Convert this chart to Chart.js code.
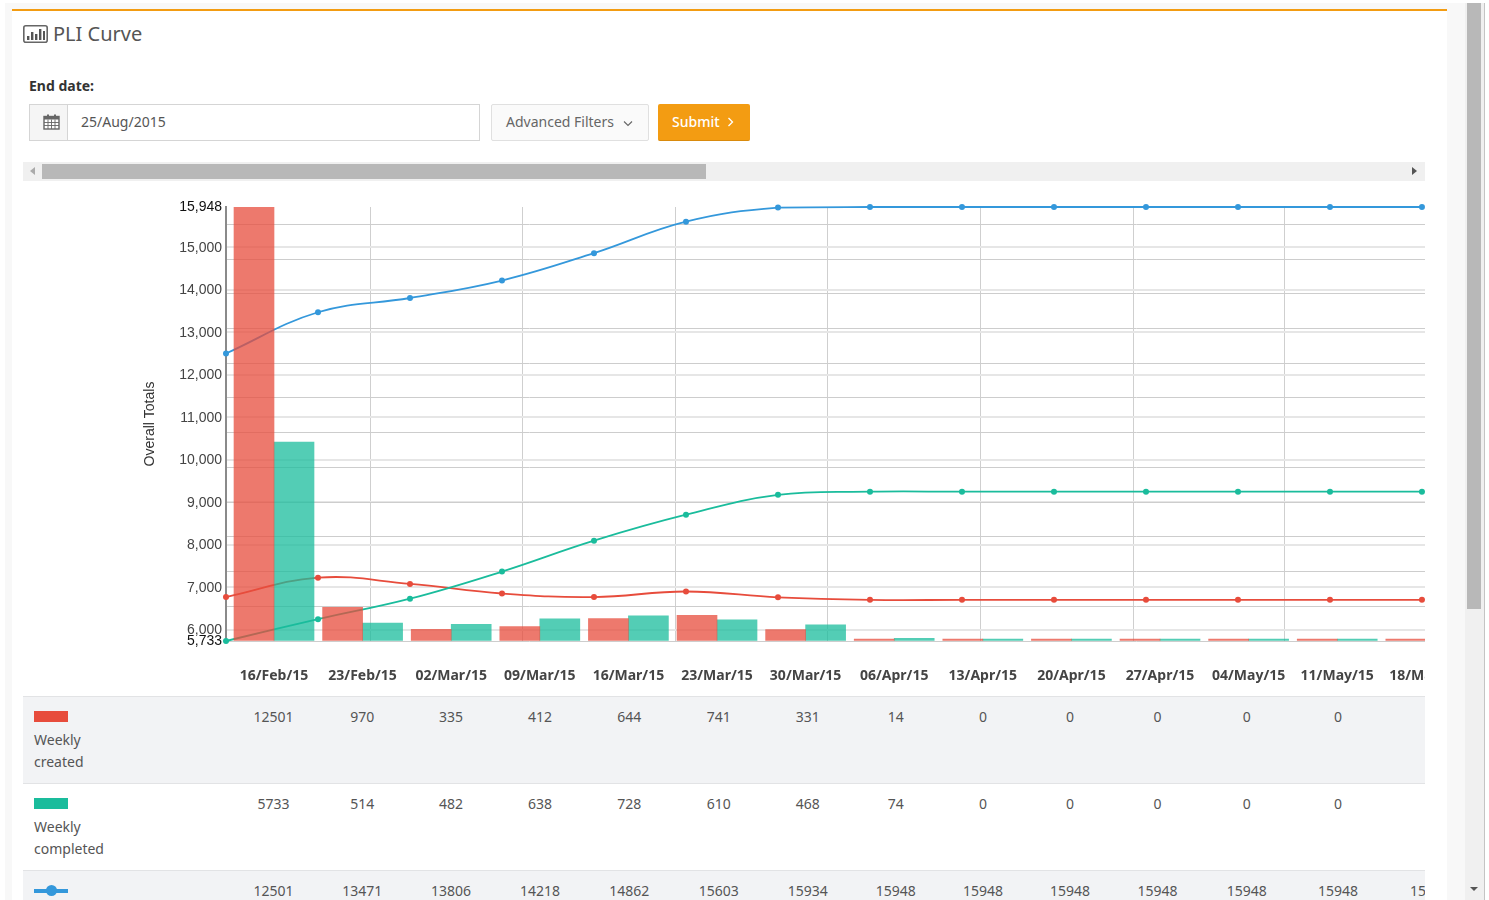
<!DOCTYPE html>
<html>
<head>
<meta charset="utf-8">
<title>PLI Curve</title>
<script src="https://cdn.jsdelivr.net/npm/chart.js@4/dist/chart.umd.min.js"></script>
<style>
  html, body { margin: 0; padding: 0; width: 1489px; height: 900px; overflow: hidden; background: #fff; }
  body { font-family: "Noto Sans", sans-serif; color: #555; position: relative; }
  .abs { position: absolute; box-sizing: border-box; }
  #page { left: 5px; top: 3px; width: 1460px; height: 897px; background: #f8f8f8; }
  #panel { left: 12px; top: 9px; width: 1435px; height: 891px; background: #fff; border-top: 2px solid #f39c12; }
  #title { left: 53px; top: 19px; font-size: 20px; line-height: 30px; color: #555; }
  #endLabel { left: 29px; top: 76px; font-size: 14px; line-height: 20px; font-weight: bold; color: #333; }
  #addon { left: 29px; top: 104px; width: 39px; height: 37px; background: #f5f5f5; border: 1px solid #d5d5d5; }
  #dateInput { left: 67px; top: 104px; width: 413px; height: 37px; background: #fff; border: 1px solid #d5d5d5; padding-left: 13px; font-size: 14px; line-height: 34px; }
  #filters { left: 491px; top: 104px; width: 158px; height: 37px; background: #fafafa; border: 1px solid #e0e0e0; border-radius: 2px; padding-left: 14px; font-size: 14px; line-height: 34px; color: #666; white-space: nowrap; }
  #submit { left: 658px; top: 104px; width: 92px; height: 37px; background: #f39c12; border-bottom: 1px solid #d98a0c; border-radius: 2px; padding-left: 14px; font-size: 14px; line-height: 35px; color: #fff; font-weight: 500; white-space: nowrap; }
  #hbar { left: 23px; top: 162px; width: 1402px; height: 19px; background: #f0f0f0; }
  #hthumb { left: 42px; top: 164px; width: 664px; height: 15px; background: #b8b8b8; }
  #vbar { left: 1465px; top: 3px; width: 20px; height: 897px; background: #f0f0f0; border-right: 1px solid #c4c4c4; }
  #vthumb { left: 1467px; top: 3px; width: 14px; height: 606px; background: #b8b8b8; }
  .tri { width: 0; height: 0; border-style: solid; border-color: transparent; }
  #chartClip { left: 23px; top: 181px; width: 1402px; height: 515px; overflow: hidden; }
  #chartClip canvas { position: absolute; left: 0; top: 0; }
  #tableClip { left: 23px; top: 696px; width: 1402px; height: 204px; overflow: hidden; }
  #dataTable { border-collapse: collapse; table-layout: fixed; font-size: 14px; color: #555; }
  #dataTable td { padding: 9px 0 0 0; vertical-align: top; text-align: center; line-height: 22px; height: 77px; border-top: 1px solid #e2e3e5; white-space: nowrap; overflow: hidden; }
  #dataTable td.name { text-align: left; padding: 10px 0 0 11px; height: 76px; white-space: normal; }
  #dataTable tr.odd td { background: #f2f3f5; }
  .swatch { display: block; width: 34px; height: 11px; margin: 4px 0 7px 0; }
  .lineIcon { display: block; position: relative; width: 34px; height: 4px; margin: 8px 0 0 0; background: #3498db; }
  .lineIcon i { position: absolute; left: 12px; top: -4px; width: 11px; height: 11px; border-radius: 50%; background: #3498db; }
</style>
</head>
<body>
<div class="abs" id="page"></div>
<div class="abs" id="panel"></div>

<svg class="abs" style="left:23px;top:25px" width="25" height="18" viewBox="0 0 25 18">
  <rect x="0.8" y="0.8" width="23.4" height="16.4" rx="2" fill="#fff" stroke="#666" stroke-width="1.6"/>
  <rect x="4" y="11" width="2.4" height="4" fill="#555"/>
  <rect x="8" y="7" width="2.4" height="8" fill="#555"/>
  <rect x="12" y="9" width="2.4" height="6" fill="#555"/>
  <rect x="16" y="4" width="2.4" height="11" fill="#555"/>
  <rect x="20" y="6" width="2" height="9" fill="#555"/>
</svg>
<div class="abs" id="title">PLI Curve</div>
<div class="abs" id="endLabel">End date:</div>

<div class="abs" id="addon"></div>
<svg class="abs" style="left:43px;top:114px" width="17" height="16" viewBox="0 0 17 16">
  <rect x="1" y="2.5" width="15" height="12.5" fill="#fff" stroke="#666" stroke-width="1.4"/>
  <rect x="1" y="2.5" width="15" height="3" fill="#666"/>
  <rect x="4" y="0.5" width="2" height="4" fill="#666"/>
  <rect x="11" y="0.5" width="2" height="4" fill="#666"/>
  <path d="M1 8.5H16M1 11.5H16M5 5.5V15M8.5 5.5V15M12 5.5V15" stroke="#666" stroke-width="0.9" fill="none"/>
</svg>
<div class="abs" id="dateInput">25/Aug/2015</div>
<div class="abs" id="filters">Advanced Filters
  <svg style="margin-left:5px" width="10" height="7" viewBox="0 0 10 7"><path d="M1 1.5L5 5.5L9 1.5" stroke="#666" stroke-width="1.1" fill="none"/></svg>
</div>
<div class="abs" id="submit">Submit
  <svg style="margin-left:4px" width="7" height="10" viewBox="0 0 7 10"><path d="M1.5 1L5.5 5L1.5 9" stroke="#fff" stroke-width="1.3" fill="none"/></svg>
</div>

<div class="abs" id="hbar"></div>
<div class="abs" id="hthumb"></div>
<div class="abs tri" style="left:30px;top:167px;border-width:4px 5px 4px 0;border-right-color:#aaa"></div>
<div class="abs tri" style="left:1412px;top:167px;border-width:4px 0 4px 5px;border-left-color:#555"></div>

<div class="abs" id="vbar"></div>
<div class="abs" id="vthumb"></div>
<div class="abs tri" style="left:1470px;top:887px;border-width:4px 4px 0 4px;border-top-color:#555"></div>

<div class="abs" id="chartClip"><canvas id="myChart"></canvas></div>
<div class="abs" id="tableClip"><table id="dataTable"></table></div>

<script>
// Valeurs
const weekLabels = ["16/Feb/15", "23/Feb/15", "02/Mar/15", "09/Mar/15", "16/Mar/15", "23/Mar/15", "30/Mar/15",
  "06/Apr/15", "13/Apr/15", "20/Apr/15", "27/Apr/15", "04/May/15", "11/May/15", "18/May/15"];
const weeklyCreated = [12501, 970, 335, 412, 644, 741, 331, 14, 0, 0, 0, 0, 0, 0];
const weeklyCompleted = [5733, 514, 482, 638, 728, 610, 468, 74, 0, 0, 0, 0, 0, 0];
const totalCreated = [12501, 13471, 13806, 14218, 14862, 15603, 15934, 15948, 15948, 15948, 15948, 15948, 15948, 15948];
const totalCompleted = [5733, 6247, 6729, 7367, 8095, 8705, 9173, 9247, 9247, 9247, 9247, 9247, 9247, 9247];
const totalOpen = [6768, 7224, 7077, 6851, 6767, 6898, 6761, 6701, 6701, 6701, 6701, 6701, 6701, 6701];
const leftTicks = [5733, 6000, 7000, 8000, 9000, 10000, 11000, 12000, 13000, 14000, 15000, 15948];
const barTicks = [0, 1000, 2000, 3000, 4000, 5000, 6000, 7000, 8000, 9000, 10000, 11000, 12000];
// Lignes verticales de la grille, en semaines sur l'axe des courbes
const verticalGrid = [1.576, 3.228, 4.891, 6.533, 8.196, 9.859, 11.511];
// Largeur des colonnes du tableau
const columnWidths = [206, 89, 88.5, 89, 89, 89.5, 89.5, 88.5, 87.5, 87, 87, 88, 90.5, 92, 92];

const RED = "#e74c3c", GREEN = "#1abc9c", BLUE = "#3498db";
// Demi-largeur d'une barre, en semaines : les deux barres se touchent autour de la date
const BAR_SHIFT = 0.2257;

function lineDataset(values, color) {
  return {
    type: "line",
    data: values.map((v, i) => ({ x: i, y: v })),
    xAxisID: "xLine",
    yAxisID: "y",
    borderColor: color,
    backgroundColor: color,
    borderWidth: 1.8,
    pointRadius: 3,
    pointBorderWidth: 0,
    tension: 0.4,
    clip: false,
    order: 2,
  };
}

function barDataset(values, color, shift) {
  return {
    type: "bar",
    data: values.map((v, i) => ({ x: i + shift, y: v })),
    xAxisID: "xBar",
    yAxisID: "yBar",
    backgroundColor: color,
    grouped: false,
    barPercentage: 1,
    categoryPercentage: 1,
    minBarLength: 2,
    order: 1,
  };
}

const config = {
  data: {
    datasets: [
      barDataset(weeklyCreated, "rgba(231,76,60,0.75)", -BAR_SHIFT),
      barDataset(weeklyCompleted, "rgba(26,188,156,0.75)", BAR_SHIFT),
      lineDataset(totalCreated, BLUE),
      lineDataset(totalCompleted, GREEN),
      lineDataset(totalOpen, RED),
    ],
  },
  options: {
    responsive: false,
    animation: false,
    layout: { padding: { left: 119, top: 26, right: 0, bottom: 0 } },
    plugins: { legend: false, tooltip: { enabled: false } },
    scales: {
      xBar: {
        type: "linear",
        position: "bottom",
        offset: false,
        min: -0.5418,
        max: 13.16,
        grid: { display: false, offset: false },
        border: { display: false },
        afterBuildTicks: (scale) => { scale.ticks = weekLabels.map((_, i) => ({ value: i })); },
        afterFit: (scale) => {
          scale.height = 55;
          scale.paddingLeft = 0;
          scale.paddingRight = 0;
        },
        ticks: {
          autoSkip: false,
          maxRotation: 0,
          padding: 19,
          color: "#444",
          font: { family: "'Noto Sans'", size: 14, weight: "bold" },
          callback: (v) => weekLabels[v],
        },
      },
      xLine: {
        type: "linear",
        position: "top",
        offset: false,
        min: 0,
        max: 13.196,
        grid: { color: "#cfcfcf", lineWidth: 1, drawTicks: false, offset: false },
        border: { display: false },
        afterBuildTicks: (scale) => { scale.ticks = verticalGrid.map((v) => ({ value: v })); },
        afterFit: (scale) => {
          scale.height = 0;
          scale.paddingLeft = 0;
          scale.paddingRight = 0;
        },
        ticks: { display: false },
      },
      y: {
        type: "linear",
        position: "left",
        min: 5733,
        max: 15948,
        title: {
          display: true,
          text: "Overall Totals",
          color: "#333",
          padding: 0,
          font: { family: "'Liberation Sans'", size: 14 },
        },
        grid: {
          tickLength: 0,
          lineWidth: 2,
          color: (ctx) => (ctx.tick.value === 5733 || ctx.tick.value === 15948 ? "transparent" : "#e6e6e6"),
        },
        border: { color: "#8a8a8a", width: 2 },
        afterBuildTicks: (scale) => { scale.ticks = leftTicks.map((v) => ({ value: v })); },
        afterFit: (scale) => { scale.width = 84; },
        ticks: {
          autoSkip: false,
          padding: 4,
          labelOffset: 0.5,
          font: { family: "'Liberation Sans'", size: 14 },
          color: (ctx) => (ctx.tick.value === 5733 || ctx.tick.value === 15948 ? "#111" : "#444"),
          callback: (v) => v.toLocaleString("en-US"),
        },
      },
      yBar: {
        type: "linear",
        position: "right",
        min: 0,
        max: 12501,
        grid: { color: "#cdcdcd", lineWidth: 1, drawTicks: false },
        border: { display: false },
        afterBuildTicks: (scale) => { scale.ticks = barTicks.map((v) => ({ value: v })); },
        afterFit: (scale) => { scale.width = 0; },
        ticks: { display: false },
      },
    },
  },
};

const canvas = document.getElementById("myChart");
canvas.width = 1421;
canvas.height = 515;
canvas.style.width = "1421px";
canvas.style.height = "515px";
new Chart(canvas.getContext("2d"), config);

// Tableau sous le graphique
const table = document.getElementById("dataTable");
table.style.width = columnWidths.reduce((a, b) => a + b, 0) + "px";
const colgroup = document.createElement("colgroup");
columnWidths.forEach((w) => {
  const col = document.createElement("col");
  col.style.width = w + "px";
  colgroup.appendChild(col);
});
table.appendChild(colgroup);

function addRow(head, values, odd) {
  const tr = document.createElement("tr");
  if (odd) tr.className = "odd";
  const name = document.createElement("td");
  name.className = "name";
  name.innerHTML = head;
  tr.appendChild(name);
  values.forEach((v) => {
    const td = document.createElement("td");
    td.textContent = v;
    tr.appendChild(td);
  });
  table.appendChild(tr);
}

addRow('<span class="swatch" style="background:' + RED + '"></span>Weekly<br>created', weeklyCreated, true);
addRow('<span class="swatch" style="background:' + GREEN + '"></span>Weekly<br>completed', weeklyCompleted, false);
addRow('<span class="lineIcon"><i></i></span>', totalCreated, true);
</script>
</body>
</html>
